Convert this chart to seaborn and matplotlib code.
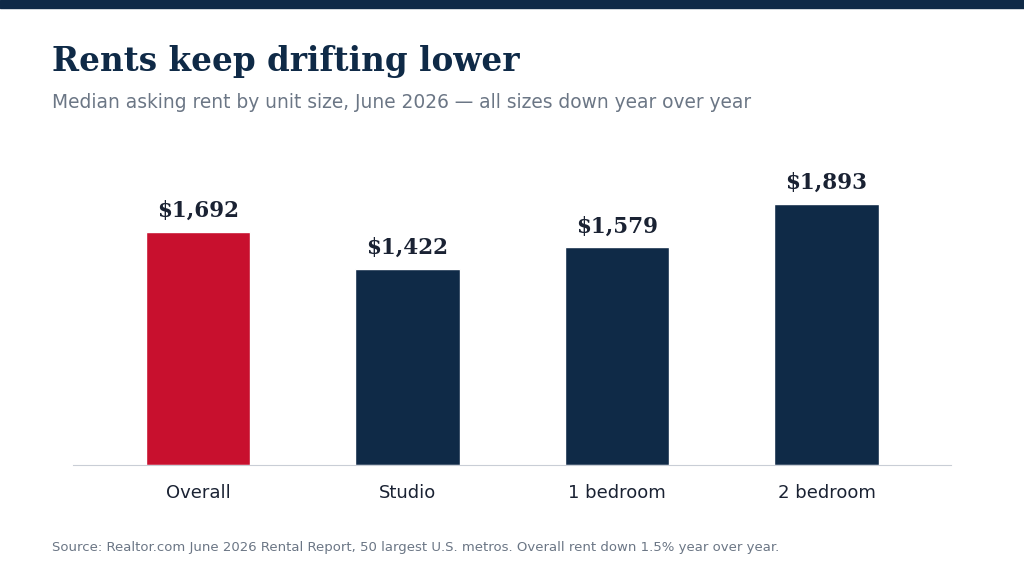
import matplotlib
matplotlib.use("Agg")
import matplotlib.pyplot as plt
import seaborn as sns
import pandas as pd

categories = ["Overall", "Studio", "1 bedroom", "2 bedroom"]
rents = [1692, 1422, 1579, 1893]
labels = ["$1,692", "$1,422", "$1,579", "$1,893"]

sns.set_style("white")
plt.rcParams['font.family'] = ['DejaVu Sans']
NAVY = "#0F2A47"; RED = "#C8102E"

fig = plt.figure(figsize=(10.24, 5.76), dpi=100)
fig.patches.append(plt.Rectangle((0, 1-8/576), 1, 8/576, transform=fig.transFigure, color=NAVY))
ax = fig.add_axes([73/1024, 1-465/576, 878/1024, 315/576])
df = pd.DataFrame({"cat": categories, "rent": rents})
sns.barplot(data=df, x="cat", y="rent", hue="cat", palette=[RED, NAVY, NAVY, NAVY],
            width=0.5, legend=False, ax=ax, saturation=1)
ax.set_ylim(0, 315/0.1379)
ax.set_xlim(-0.597, 3.594)
for i, (v, l) in enumerate(zip(rents, labels)):
    ax.annotate(l, (i, v), xytext=(0, 7), textcoords="offset points", ha="center", va="bottom",
                family="DejaVu Serif", fontweight="heavy", fontsize=15.5, color="#1a2233")
for s in ["top", "right", "left"]:
    ax.spines[s].set_visible(False)
ax.spines["bottom"].set_color("#c9ced6")
ax.set_yticks([])
ax.set_xlabel(""); ax.set_ylabel("")
ax.tick_params(axis="x", length=0, labelsize=13, colors="#1a2233", pad=14)
fig.text(52/1024, 1-62/576, "Rents keep drifting lower", family="DejaVu Serif", fontweight="bold",
         fontsize=23.5, color=NAVY, va="center")
fig.text(52/1024, 1-103/576, "Median asking rent by unit size, June 2026 — all sizes down year over year",
         fontsize=13.4, color="#6b7685", va="center")
fig.text(52/1024, 1-548/576, "Source: Realtor.com June 2026 Rental Report, 50 largest U.S. metros. Overall rent down 1.5% year over year.",
         fontsize=9.5, color="#6b7685", va="center")
fig.savefig("out.png", dpi=100)
